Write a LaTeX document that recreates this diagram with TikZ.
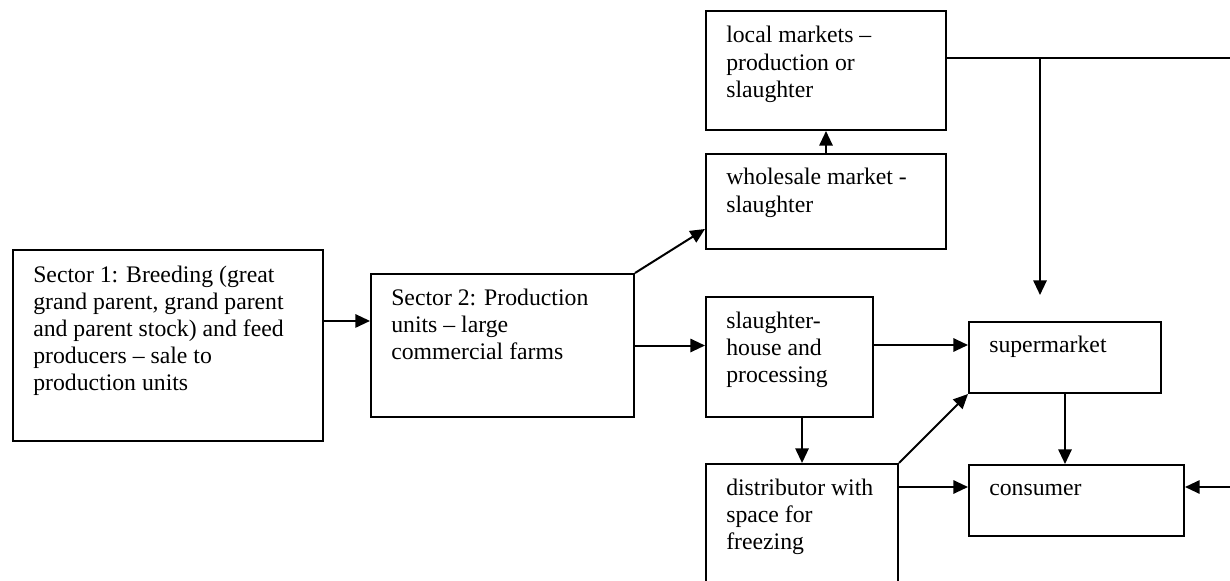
\documentclass[tikz,border=0pt]{standalone}
\usepackage{fontspec}
\setmainfont{Liberation Serif}
\usetikzlibrary{arrows.meta}

\newcommand{\boxlines}[1]{\begin{tabular}[t]{@{}l@{}}#1\end{tabular}}

\begin{document}
\begin{tikzpicture}[
    x=0.75pt, y=-0.75pt,
    blockbox/.style={draw=black, line width=1.5pt, anchor=north west, inner sep=0pt},
    blocktext/.style={anchor=base west, inner sep=0pt, font=\fontsize{17.8}{20.4}\selectfont},
    flow/.style={-{Triangle[length=11pt,width=10pt]}, line width=1.5pt},
    plainline/.style={line width=1.5pt}
    ]
        \useasboundingbox (0,0) rectangle (1230,581);

        %Boxes
        \node[blockbox, minimum width=232.5pt, minimum height=143.25pt]
            (sec1) at (12,249) {};
        \node[blockbox, minimum width=197.25pt, minimum height=107.25pt]
            (sec2) at (370,273) {};
        \node[blockbox, minimum width=180pt, minimum height=89.25pt]
            (local) at (705,10) {};
        \node[blockbox, minimum width=180pt, minimum height=71.25pt]
            (whole) at (705,153) {};
        \node[blockbox, minimum width=125.25pt, minimum height=90pt]
            (slaughter) at (705,296) {};
        \node[blockbox, minimum width=144pt, minimum height=53.25pt]
            (super) at (968,321) {};
        \node[blockbox, minimum width=144pt, minimum height=120pt]
            (dist) at (705,463) {};
        \node[blockbox, minimum width=161.25pt, minimum height=53.25pt]
            (cons) at (968,464) {};

        %Texts
        \node[blocktext] (sec1-t) at ([shift={(21,33)}]sec1.north west)
            {\boxlines{Sector 1: Breeding (great\\grand parent, grand parent\\and parent stock) and feed\\producers -- sale to\\production units}};
        \node[blocktext] (sec2-t) at ([shift={(21,32)}]sec2.north west)
            {\boxlines{Sector 2: Production\\units -- large\\commercial farms}};
        \node[blocktext] (local-t) at ([shift={(21,33)}]local.north west)
            {\boxlines{local markets --\\production or\\slaughter}};
        \node[blocktext] (whole-t) at ([shift={(21,32)}]whole.north west)
            {\boxlines{wholesale market -\\slaughter}};
        \node[blocktext] (slaughter-t) at ([shift={(21,32)}]slaughter.north west)
            {\boxlines{slaughter-\\house and\\processing}};
        \node[blocktext] (super-t) at ([shift={(21,31)}]super.north west)
            {supermarket};
        \node[blocktext] (dist-t) at ([shift={(21,32)}]dist.north west)
            {\boxlines{distributor with\\space for\\freezing}};
        \node[blocktext] (cons-t) at ([shift={(21,31)}]cons.north west)
            {consumer};

        %Free ends
        \coordinate (edgeN) at (1230,58);
        \coordinate (splitN) at (1040,58);
        \coordinate (dropN) at (1040,295);
        \coordinate (edgeS) at (1230,487);

        %Lines
        \draw[flow] ([yshift=18.4pt]sec1.east) -- ([yshift=18.4pt]sec1.east -| sec2.west);
        \draw[flow] (sec2.east) -- (sec2.east -| slaughter.west);
        \draw[flow] (sec2.north east) -- ([yshift=15.75pt]whole.south west);
        \draw[flow] (whole.north) -- (local.south);
        \draw[plainline] (local.east |- edgeN) -- (edgeN);
        \draw[flow] (splitN) -- (dropN);
        \draw[flow] (edgeS) -- (edgeS -| cons.east);
        \draw[flow] ([yshift=9pt]slaughter.east) -- ([yshift=9pt]slaughter.east -| super.west);
        \draw[flow] ([xshift=9.4pt]slaughter.south) -- ([xshift=9.4pt]slaughter.south |- dist.north);
        \draw[flow] (dist.north east) -- (super.south west);
        \draw[flow] (dist.east |- edgeS) -- (edgeS -| cons.west);
        \draw[flow] (super.south) -- (super.south |- cons.north);
\end{tikzpicture}
\end{document}
